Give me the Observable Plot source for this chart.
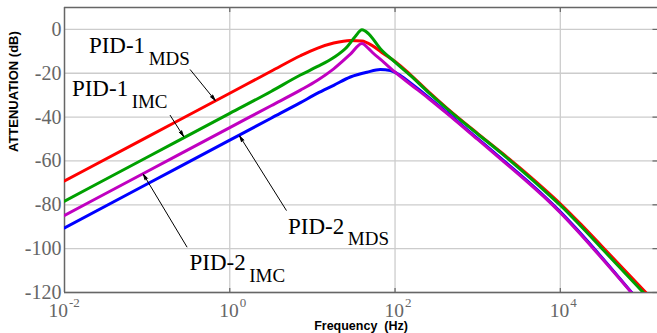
<!DOCTYPE html>
<html>
<head>
<meta charset="utf-8">
<script src="https://cdn.jsdelivr.net/npm/d3@7"></script>
<script src="https://cdn.jsdelivr.net/npm/@observablehq/plot@0.6"></script>
<style>
  html, body { margin: 0; padding: 0; background: #fff; }
  svg { display: block; }
  svg text { white-space: pre; }
</style>
</head>
<body>
<div id="chart"></div>
<script>
// ---- data (frequency in Hz, attenuation in dB) ----
const pid1MdsFreq = [0.01, 0.1, 1, 3.16, 7.16, 11.4, 18.1, 28.8, 39.8, 52.5, 72.8, 100, 153, 255, 427, 1000, 1884, 3981, 6310, 10000, 17783, 31623, 114800];
const pid1MdsDb   = [-69.1, -49.1, -29.1, -19.1, -12.0, -8.6, -6.2, -5.0, -5.3, -7.3, -11.1, -14.6, -20.6, -28.5, -36.0, -47.5, -55.8, -66.0, -72.6, -79.5, -88.9, -98.8, -121.0];

const pid1ImcFreq = [0.01, 0.1, 1, 3.16, 7.16, 11.4, 18.1, 26.2, 33.0, 39.8, 47.9, 66.4, 100, 153, 255, 427, 1000, 1884, 3981, 6310, 10000, 17783, 31623, 107000];
const pid1ImcDb   = [-78.3, -58.3, -38.3, -28.3, -20.8, -17.0, -12.8, -8.0, -3.2, -0.2, -2.0, -8.8, -14.9, -21.0, -28.8, -36.2, -47.7, -56.1, -66.6, -73.3, -80.2, -89.8, -99.8, -121.0];

const pid2ImcFreq = [0.01, 0.1, 1, 3.16, 7.16, 11.4, 18.1, 28.8, 39.8, 47.9, 52.5, 72.8, 100, 153, 255, 427, 1000, 1884, 3981, 6310, 10000, 15849, 25119, 72440];
const pid2ImcDb   = [-84.8, -64.8, -44.8, -34.8, -27.7, -23.3, -18.0, -11.3, -6.4, -8.8, -10.3, -14.9, -19.5, -25.0, -31.5, -38.4, -50.2, -59.0, -69.5, -76.3, -83.6, -91.6, -100.0, -120.0];

const pid2MdsFreq = [0.01, 0.1, 1, 3.16, 7.16, 11.4, 18.1, 28.8, 45.8, 66.4, 87.7, 116, 168, 255, 427, 1000, 1884, 3981, 6310, 10000, 15849, 25119, 74000];
const pid2MdsDb   = [-90.5, -70.5, -50.5, -40.5, -33.4, -29.2, -25.5, -21.7, -19.5, -18.3, -18.7, -21.0, -25.6, -31.0, -38.0, -49.8, -58.6, -69.1, -75.9, -83.2, -91.2, -99.6, -120.3];

// axis ticks
const yTicks = [-120, -100, -80, -60, -40, -20, 0];
const xTicks = [0.01, 1, 100, 10000];
const xTickExps = ["-2", "0", "2", "4"];

// annotations
const labelMain = ["PID-1", "PID-1", "PID-2", "PID-2"];
const labelSub  = ["MDS", "IMC", "MDS", "IMC"];
const labelFreq = [0.1, 0.0623, 25.7, 1.65];
const labelDb   = [-10.8, -30.5, -93.1, -109.8];
const arrowFromFreq = [0.333, 0.19, 4.83, 0.303];
const arrowFromDb   = [-18.4, -39.2, -82.5, -99.2];
const arrowToFreq   = [0.667, 0.276, 1.315, 0.0898];
const arrowToDb     = [-32.4, -48.8, -48.6, -66.0];

// ---- build tables ----
const toRows = (f, d) => f.map((v, i) => ({f: v, db: d[i]}));
const labels = labelMain.map((m, i) => ({main: m, sub: labelSub[i], f: labelFreq[i], db: labelDb[i]}));
const arrows = arrowFromFreq.map((v, i) => ({x1: v, y1: arrowFromDb[i], x2: arrowToFreq[i], y2: arrowToDb[i]}));

const serif = "'Liberation Serif', 'Times New Roman', serif";
const sans = "'Liberation Sans', Arial, sans-serif";
const axisGray = "#666";
const xMax = 1.5e5;

const xLabelMarks = xTicks.flatMap((t, i) => {
  const join = 10 - 5.5 * (xTickExps[i].length - 1);
  return [
    Plot.text([t], {x: d => d, frameAnchor: "bottom", text: () => "10", textAnchor: "end", lineAnchor: "bottom",
      dx: join - 1, dy: 24, fontFamily: serif, fontSize: 19.5, fill: axisGray}),
    Plot.text([t], {x: d => d, frameAnchor: "bottom", text: () => xTickExps[i], textAnchor: "start", lineAnchor: "bottom",
      dx: join, dy: 14, fontFamily: serif, fontSize: 13, fill: axisGray})
  ];
});

const chart = Plot.plot({
  width: 657,
  height: 333,
  marginLeft: 64,
  marginRight: 0,
  marginTop: 7,
  marginBottom: 41,
  x: {type: "log", domain: [0.01, xMax], axis: null},
  y: {domain: [-120, 10], axis: null},
  style: {background: "#fff"},
  marks: [
    // grid
    Plot.ruleY(yTicks, {stroke: "#cccccc", strokeWidth: 1.3}),
    Plot.ruleX(xTicks.slice(1), {stroke: "#cccccc", strokeWidth: 1.3}),
    // box
    Plot.ruleY([10, -120], {stroke: axisGray, strokeWidth: 1.5}),
    Plot.ruleX([0.01], {stroke: axisGray, strokeWidth: 1.5}),
    // small inward ticks
    Plot.link(xTicks.slice(1), {x1: d => d, x2: d => d, y1: 10, y2: 8, stroke: axisGray, strokeWidth: 1.2}),
    Plot.link(xTicks.slice(1), {x1: d => d, x2: d => d, y1: -120, y2: -118, stroke: axisGray, strokeWidth: 1.2}),
    Plot.link(yTicks, {x1: xMax, x2: xMax / 1.15, y1: d => d, y2: d => d, stroke: axisGray, strokeWidth: 1.2}),
    // y tick labels
    Plot.text(yTicks, {frameAnchor: "left", y: d => d, text: d => String(d), textAnchor: "end", dx: -3,
      fontFamily: serif, fontSize: 20, fill: axisGray}),
    // x tick labels
    ...xLabelMarks,
    // curves
    Plot.line(toRows(pid1MdsFreq, pid1MdsDb), {x: "f", y: "db", stroke: "#ff0000", strokeWidth: 3, curve: "monotone-x", clip: true}),
    Plot.line(toRows(pid1ImcFreq, pid1ImcDb), {x: "f", y: "db", stroke: "#00a000", strokeWidth: 3, curve: "monotone-x", clip: true}),
    Plot.line(toRows(pid2MdsFreq, pid2MdsDb), {x: "f", y: "db", stroke: "#0000ff", strokeWidth: 3, curve: "monotone-x", clip: true}),
    Plot.line(toRows(pid2ImcFreq, pid2ImcDb), {x: "f", y: "db", stroke: "#c000c0", strokeWidth: 3, curve: "monotone-x", clip: true}),
    // annotations
    Plot.arrow(arrows, {x1: "x1", y1: "y1", x2: "x2", y2: "y2", stroke: "black", fill: "black", strokeWidth: 1, headLength: 9, headAngle: 28}),
    Plot.text(labels, {x: "f", y: "db", text: "main", textAnchor: "end", lineAnchor: "bottom", dx: -2,
      fontFamily: serif, fontSize: 23, fill: "black"}),
    Plot.text(labels, {x: "f", y: "db", text: "sub", textAnchor: "start", lineAnchor: "bottom", dx: 1.5, dy: 11.7,
      fontFamily: serif, fontSize: 19, fill: "black"}),
    // axis titles
    Plot.text(["ATTENUATION (dB)"], {frameAnchor: "left", text: d => d, rotate: -90, dx: -50.7, dy: 2,
      fontFamily: sans, fontWeight: "bold", fontSize: 13, fill: "black"}),
    Plot.text(["Frequency  (Hz)"], {frameAnchor: "bottom", text: d => d, lineAnchor: "bottom", dy: 37.5,
      fontFamily: sans, fontWeight: "bold", fontSize: 12.5, fill: "black"})
  ]
});
document.getElementById("chart").appendChild(chart);
</script>
</body>
</html>
